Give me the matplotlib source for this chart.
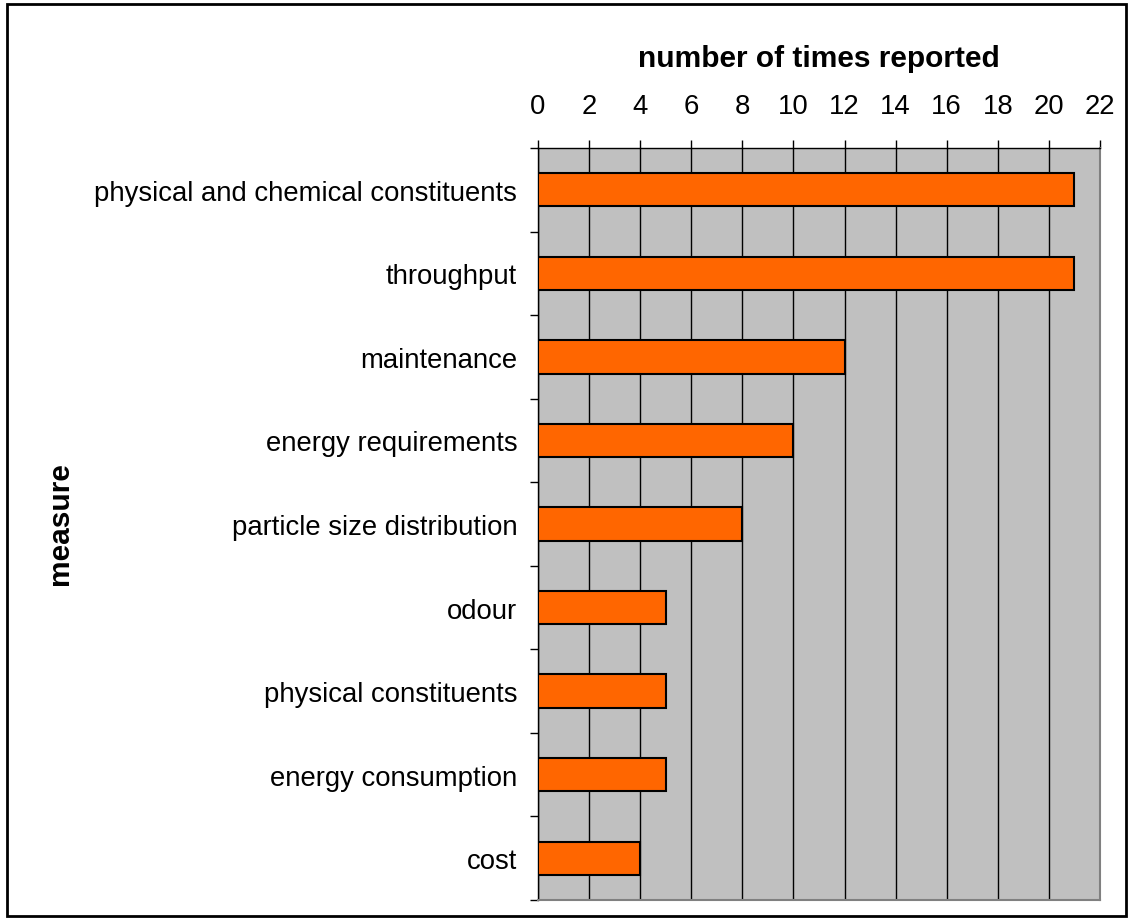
import matplotlib.pyplot as plt
from matplotlib.patches import Rectangle
import numpy as np

plt.rcParams['font.family'] = ['Liberation Sans', 'DejaVu Sans']

measures = ["physical and chemical constituents", "throughput", "maintenance",
            "energy requirements", "particle size distribution", "odour",
            "physical constituents", "energy consumption", "cost"]
times_reported = [21, 21, 12, 10, 8, 5, 5, 5, 4]
xticks = list(range(0, 23, 2))

fig = plt.figure(figsize=(11.3, 9.2), dpi=100)
ax = fig.add_axes([538 / 1130, 1 - 901 / 920, 562 / 1130, 752 / 920])
ax.set_facecolor("#c0c0c0")

ypos = np.arange(len(measures))
ax.barh(ypos, times_reported, height=0.4, color="#ff6600",
        edgecolor="black", linewidth=1.5, zorder=3)

ax.set_xlim(0, 22)
ax.set_ylim(len(measures) - 0.5, -0.5)

# x axis on top, with vertical grid lines
ax.xaxis.tick_top()
ax.xaxis.set_label_position("top")
ax.set_xticks(xticks)
ax.set_xticklabels([str(t) for t in xticks], fontsize=19.8)
ax.tick_params(axis="x", direction="out", length=6, width=1, pad=15)
ax.grid(axis="x", color="black", linewidth=1, zorder=1)
ax.set_xlabel("number of times reported", fontsize=21.5, fontweight="bold",
              labelpad=19)

# category labels centred between boundary ticks
ax.set_yticks(ypos)
ax.set_yticklabels(measures, fontsize=19.8)
ax.set_yticks(np.arange(-0.5, len(measures)), minor=True)
ax.tick_params(axis="y", which="major", length=0, pad=15)
ax.tick_params(axis="y", which="minor", direction="out", length=6, width=1)

for side in ("top", "left"):
    ax.spines[side].set_color("black")
    ax.spines[side].set_linewidth(1)
for side in ("right", "bottom"):
    ax.spines[side].set_color("#808080")
    ax.spines[side].set_linewidth(1.5)

fig.text(60 / 1130, 1 - 524 / 920, "measure", rotation=90, fontsize=21.5,
         fontweight="bold", ha="center", va="center")

fig.add_artist(Rectangle((7 / 1130, 3 / 920), 1119 / 1130, 912 / 920,
                         transform=fig.transFigure, fill=False,
                         edgecolor="black", linewidth=2))

fig.savefig("out.png", dpi=100)
